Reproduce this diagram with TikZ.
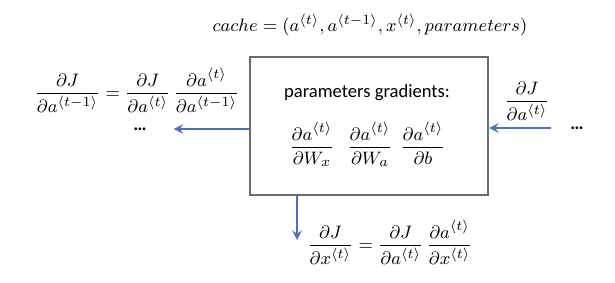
\documentclass[tikz,border=0pt]{standalone}
\usepackage{fontspec}
\setmainfont{Carlito}
\usepackage{amsmath}
\definecolor{arrowblue}{RGB}{68,114,196}
\newcommand{\tsup}{^{\langle t\rangle}}
\newcommand{\tmsup}{^{\langle t-1\rangle}}
\begin{document}
\begin{tikzpicture}[x=0.5pt, y=-0.5pt, >=stealth,
    every node/.style={font=\fontsize{9.3}{11}\selectfont},
    flow/.style={->, arrowblue, line width=1.1pt},
    cellbox/.style={draw=gray!85!black, line width=1.1pt, minimum width=119pt, minimum height=69pt, inner sep=0pt}]
  \useasboundingbox (0,0) rectangle (615,283);
  % cell
  \node[cellbox] (cell) at (369,126) {};
  \node (caption) at (367,93) {parameters gradients:};
  \node[anchor=base] (gWx) at (312,152) {$\dfrac{\partial a\tsup}{\partial W_x}$};
  \node[anchor=base] (gWa) at (370,152) {$\dfrac{\partial a\tsup}{\partial W_a}$};
  \node[anchor=base] (gb) at (423,152) {$\dfrac{\partial a\tsup}{\partial b}$};
  \node[anchor=base] (cache) at (370,32) {$cache=(a\tsup,a\tmsup,x\tsup,parameters)$};
  % incoming from the right
  \node (dotsR) at (577,128) {\textbf{\dots}};
  \node[anchor=base] (dJin) at (527,106) {$\dfrac{\partial J}{\partial a\tsup}$};
  \draw[flow] (dotsR.west) ++(-12,0) coordinate (inR) -- (cell.east |- inR);
  % outgoing to the left
  \node (dotsL) at (140,129) {\textbf{\dots}};
  \node[anchor=base] (dJprev) at (137,98) {$\dfrac{\partial J}{\partial a\tmsup}=\dfrac{\partial J}{\partial a\tsup}\,\dfrac{\partial a\tsup}{\partial a\tmsup}$};
  \draw[flow] (cell.west |- dotsL) -- ([xshift=10]dotsL.east);
  % outgoing down
  \coordinate (xdown) at (297,240);
  \node[anchor=base] (dJx) at (390,250) {$\dfrac{\partial J}{\partial x\tsup}=\dfrac{\partial J}{\partial a\tsup}\,\dfrac{\partial a\tsup}{\partial x\tsup}$};
  \draw[flow] (cell.south -| xdown) -- (xdown);
\end{tikzpicture}
\end{document}
